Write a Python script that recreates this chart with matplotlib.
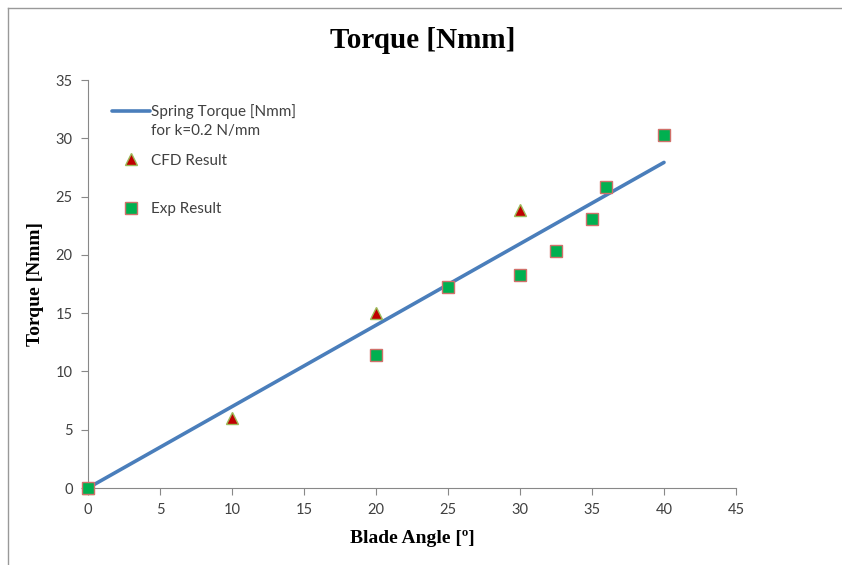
import numpy as np
import matplotlib.pyplot as plt
from matplotlib.lines import Line2D

# Spring torque line (k = 0.2 N/mm)
spring_angle = [0, 40]
spring_torque = [0.0, 27.93]

# CFD results
cfd_angle = [0, 10, 20, 30]
cfd_torque = [0.0, 6.0, 15.0, 23.85]

# Experimental results
exp_angle = [0, 20, 25, 30, 32.5, 35, 36, 40]
exp_torque = [0.0, 11.4, 17.2, 18.3, 20.3, 23.1, 25.8, 30.3]

x_ticks = [0, 5, 10, 15, 20, 25, 30, 35, 40, 45]
y_ticks = [0, 5, 10, 15, 20, 25, 30, 35]

tick_font = "Lato"
serif = "Liberation Serif"
text_grey = "#404040"

fig = plt.figure(figsize=(8.42, 5.65), dpi=100)
ax = fig.add_axes([88 / 842, 1 - 488 / 565, (736 - 88) / 842, (488 - 80) / 565])

ax.plot(spring_angle, spring_torque, color="#4A7EBB", lw=2.6,
        solid_capstyle="round", zorder=2, label="Spring Torque [Nmm]")
ax.plot(cfd_angle, cfd_torque, ls="none", marker="^", ms=9,
        markerfacecolor="#C00000", markeredgecolor="#9BBB59", mew=1.0,
        zorder=3, clip_on=False, label="CFD Result")
ax.plot(exp_angle, exp_torque, ls="none", marker="s", ms=8.5,
        markerfacecolor="#00B050", markeredgecolor="#D0706A", mew=1.0,
        zorder=4, clip_on=False, label="Exp Result")

ax.set_xlim(0, 45)
ax.set_ylim(0, 35)
ax.set_xticks(x_ticks)
ax.set_yticks(y_ticks)
for lab in ax.get_xticklabels() + ax.get_yticklabels():
    lab.set_fontfamily(tick_font)
    lab.set_fontsize(10.5)
    lab.set_color(text_grey)

for side in ("top", "right"):
    ax.spines[side].set_visible(False)
for side in ("left", "bottom"):
    ax.spines[side].set_color("#888888")
    ax.spines[side].set_linewidth(0.8)
ax.tick_params(axis="both", direction="out", length=5, width=0.8,
               color="#888888", pad=6)

ax.set_xlabel("Blade Angle [º]", fontfamily=serif, fontweight="bold",
              fontsize=14, labelpad=9)
ax.set_ylabel("Torque [Nmm]", fontfamily=serif, fontweight="bold",
              fontsize=14, labelpad=8)
fig.text(0.5 + 2 / 842, 1 - 40 / 565, "Torque [Nmm]", ha="center", va="center",
         fontfamily=serif, fontweight="bold", fontsize=21)

leg = ax.legend(loc="upper left", bbox_to_anchor=(0.028, 0.955), frameon=False,
                prop={"family": tick_font, "size": 11}, handlelength=2.5,
                handletextpad=0.05, labelspacing=2.25, borderaxespad=0)
for t in leg.get_texts():
    t.set_color(text_grey)

# Second line of the spring entry, set just below its first line
fig.canvas.draw()
first = leg.get_texts()[0].get_window_extent()
x0, y0 = fig.transFigure.inverted().transform((first.x0, first.y0 - 5))
fig.text(x0, y0, "for k=0.2 N/mm", ha="left", va="top",
         fontfamily=tick_font, fontsize=11, color=text_grey)

# Outer chart border
fig.add_artist(Line2D([8 / 842, 8 / 842], [0, 1 - 8 / 565], color="#999999",
                      lw=1.0, transform=fig.transFigure))
fig.add_artist(Line2D([8 / 842, 1], [1 - 8 / 565, 1 - 8 / 565], color="#999999",
                      lw=1.0, transform=fig.transFigure))

fig.savefig("out.png", dpi=100)
